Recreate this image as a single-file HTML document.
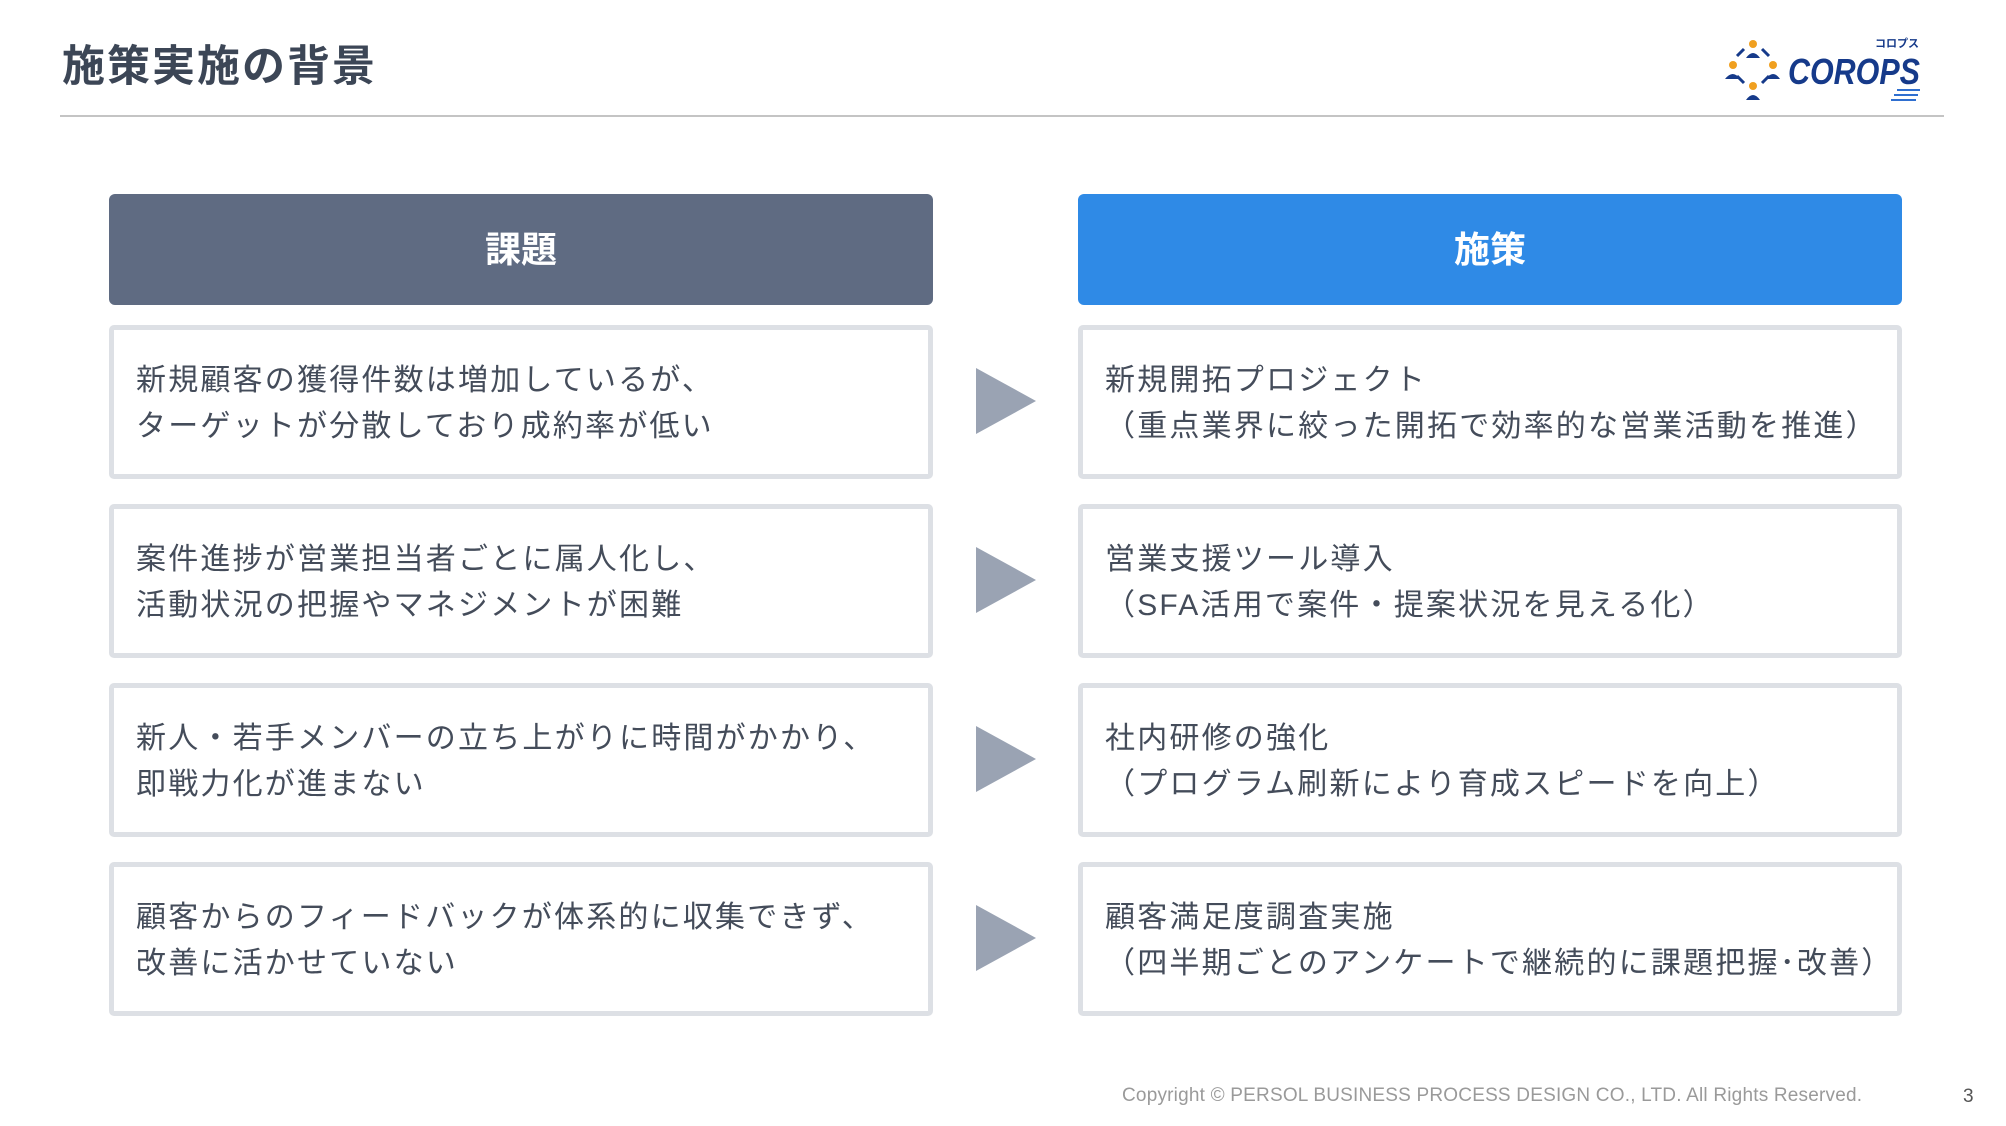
<!DOCTYPE html>
<html><head><meta charset="utf-8"><style>
body{margin:0;width:2006px;height:1126px;background:#fff;position:relative;overflow:hidden;font-family:"Liberation Sans","Noto Sans CJK JP",sans-serif;}
.abs{position:absolute}
.title{left:62px;top:32px;font-size:43px;font-weight:bold;color:#3c4656;letter-spacing:2px}
.hline{left:60px;top:115px;width:1884px;height:2px;background:#c4c4c4}
.hdr{height:111px;top:194px;width:824px;border-radius:6px;color:#fff;font-size:36px;font-weight:bold;display:flex;align-items:center;justify-content:center;padding-bottom:6px;box-sizing:border-box}
.box{width:814px;height:144px;border:5px solid #dde0e5;border-radius:5px;background:#fff;box-sizing:content-box}
.box div{position:absolute;left:22px;top:28px;font-size:30px;line-height:46px;color:#444c5a;letter-spacing:2.2px;white-space:nowrap}
.arr{width:0;height:0;border-top:33px solid transparent;border-bottom:33px solid transparent;border-left:60px solid #9aa3b3}
.foot{left:1122px;top:1085px;font-size:19px;color:#9a9a9a;letter-spacing:0.2px}
</style></head><body>
<div class="abs title">施策実施の背景</div>
<div class="abs hline"></div>
<svg class="abs" style="left:1720px;top:34px" width="220" height="68" viewBox="0 0 220 68">
 <g fill="#f0a020"><circle cx="33" cy="10" r="4"/><circle cx="13" cy="31" r="4"/><circle cx="53" cy="31" r="4"/><circle cx="33" cy="52" r="4"/></g>
 <g fill="#163a8a"><path d="M26 24 Q33 14 40 24Z"/><path d="M5 45 Q13 35 20 45Z"/><path d="M46 45 Q53 35 60 45Z"/><path d="M26 66 Q33 56 40 66Z"/></g>
 <g stroke="#163a8a" stroke-width="3" fill="none"><path d="M24 15 L17 22"/><path d="M42 15 L49 22"/><path d="M17 42 L24 49"/><path d="M49 42 L42 49"/></g>
 <text x="68" y="50" font-family="Liberation Sans" font-weight="bold" font-style="italic" font-size="36" fill="#163a8a" textLength="132" lengthAdjust="spacingAndGlyphs">COROPS</text>
 <text x="155" y="13" font-family="Noto Sans CJK JP" font-weight="bold" font-size="11" fill="#163a8a">コロプス</text>
 <g stroke="#2f6fd0" stroke-width="2"><path d="M177 56 H200"/><path d="M174 61 H198"/><path d="M171 66 H196"/></g>
</svg>
<div class="abs hdr" style="left:109px;background:#5f6b82">課題</div>
<div class="abs hdr" style="left:1078px;background:#2f8ae6">施策</div>

<div class="abs box" style="left:109px;top:325px"><div>新規顧客の獲得件数は増加しているが、<br>ターゲットが分散しており成約率が低い</div></div>
<div class="abs box" style="left:109px;top:504px"><div>案件進捗が営業担当者ごとに属人化し、<br>活動状況の把握やマネジメントが困難</div></div>
<div class="abs box" style="left:109px;top:683px"><div>新人・若手メンバーの立ち上がりに時間がかかり、<br>即戦力化が進まない</div></div>
<div class="abs box" style="left:109px;top:862px"><div>顧客からのフィードバックが体系的に収集できず、<br>改善に活かせていない</div></div>

<div class="abs box" style="left:1078px;top:325px"><div>新規開拓プロジェクト<br>（重点業界に絞った開拓で効率的な営業活動を推進）</div></div>
<div class="abs box" style="left:1078px;top:504px"><div>営業支援ツール導入<br>（SFA活用で案件・提案状況を見える化）</div></div>
<div class="abs box" style="left:1078px;top:683px"><div>社内研修の強化<br>（プログラム刷新により育成スピードを向上）</div></div>
<div class="abs box" style="left:1078px;top:862px"><div>顧客満足度調査実施<br>（四半期ごとのアンケートで継続的に課題把握･改善）</div></div>

<div class="abs arr" style="left:976px;top:368px"></div>
<div class="abs arr" style="left:976px;top:547px"></div>
<div class="abs arr" style="left:976px;top:726px"></div>
<div class="abs arr" style="left:976px;top:905px"></div>

<div class="abs foot">Copyright © PERSOL BUSINESS PROCESS DESIGN CO., LTD. All Rights Reserved.</div>
<div class="abs" style="left:1963px;top:1086px;font-size:19px;color:#555">3</div>
</body></html>
